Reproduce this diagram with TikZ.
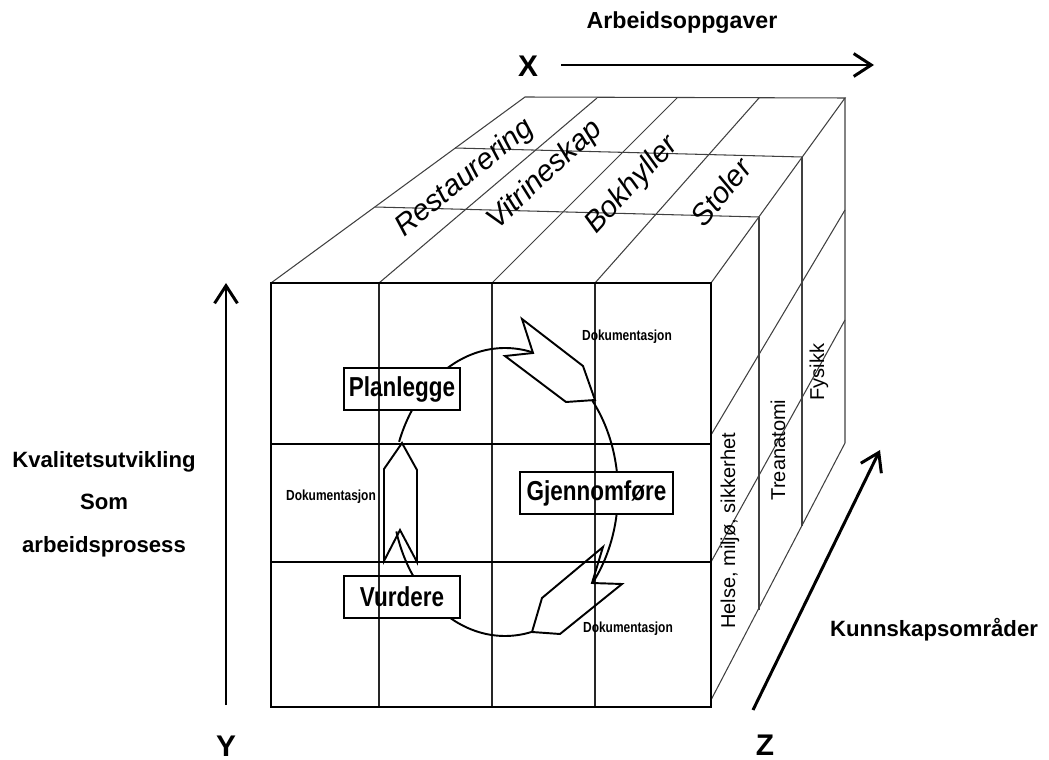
\documentclass[tikz,border=0pt]{standalone}
\usepackage{fontspec}
\setmainfont{Liberation Sans}
\newfontfamily\narrowsans{Liberation Sans}[FakeStretch=0.82]
\usetikzlibrary{arrows.meta}

\begin{document}
\begin{tikzpicture}[x=0.02cm, y=-0.02cm,
  faceline/.style={line width=0.6pt, draw=black!75},
  gridline/.style={line width=0.75pt, draw=black!85},
  thickline/.style={line width=1.7pt, draw=black},
  cycleline/.style={line width=1.1pt, draw=black, line join=miter},
  axis/.style={line width=1.7pt, -{Straight Barb[length=10pt,width=13pt]}},
  toplabel/.style={font=\fontsize{16.8}{18}\selectfont\itshape, inner sep=0pt},
  sidelabel/.style={font=\fontsize{11.4}{13}\selectfont, rotate=90, inner sep=0pt},
  procbox/.style={draw, line width=1.1pt, minimum height=0.84cm, inner sep=0pt,
    font=\narrowsans\bfseries\fontsize{15.6}{17}\selectfont},
  doclabel/.style={font=\narrowsans\bfseries\fontsize{8.3}{10}\selectfont, inner sep=0pt},
  axislabel/.style={font=\bfseries\fontsize{12.6}{24.2}\selectfont, inner sep=0pt, align=center},
  axisletter/.style={font=\bfseries\fontsize{17}{20}\selectfont, inner sep=0pt},
]
\useasboundingbox (0,0) rectangle (1049,760);

% ---- top face of the cube ----
\draw[faceline] (271,283) -- (525,97) -- (845,98) -- (711,283);
\draw[faceline] (379,283) -- (597,98);
\draw[faceline] (492,283) -- (677,98);
\draw[faceline] (595,283) -- (759,98);
\draw[faceline] (375,207) -- (759,217);
\draw[faceline] (455,148) -- (802,157);

% ---- right face of the cube ----
\draw[faceline] (845,98) -- (845,443) -- (711,700);
\draw[faceline] (759,217) -- (759,610);
\draw[faceline] (802,157) -- (802,526);
\draw[faceline] (711,435) -- (845,210);
\draw[faceline] (711,562) -- (845,320);

% ---- front face: grid ----
\draw[gridline] (379,283) -- (379,707);
\draw[gridline] (492,283) -- (492,707);
\draw[gridline] (595,283) -- (595,707);
\draw[thickline] (271,444) -- (711,444);
\draw[thickline] (271,562) -- (711,562);
\draw[thickline] (271,283) rectangle (711,707);

% ---- labels on the top face ----
\node[toplabel, rotate=39] (restaurering) at (465,178) {Restaurering};
\node[toplabel, rotate=43] (vitrineskap) at (545,175) {Vitrineskap};
\node[toplabel, rotate=47] (bokhyller) at (632,185) {Bokhyller};
\node[toplabel, rotate=51] (stoler) at (721,192) {Stoler};

% ---- labels on the right face ----
\node[sidelabel] (hms) at (730,531) {Helse, miljø, sikkerhet};
\node[sidelabel] (treanatomi) at (778,450) {Treanatomi};
\node[sidelabel] (fysikk) at (819,372) {Fysikk};

% ---- work cycle: arcs of an ellipse between the boxes and block arrows ----
\draw[cycleline] plot[domain=75.6:120.6, samples=30] ({505+113*cos(\x)}, {492-144*sin(\x)});
\draw[cycleline] plot[domain=145.3:159.6, samples=10] ({505+113*cos(\x)}, {492-144*sin(\x)});
\draw[cycleline] plot[domain=195.9:215.7, samples=15] ({505+113*cos(\x)}, {492-144*sin(\x)});
\draw[cycleline] plot[domain=241:283.8, samples=30] ({505+113*cos(\x)}, {492-144*sin(\x)});
\draw[cycleline] plot[domain=-39.4:-8.8, samples=20] ({505+113*cos(\x)}, {492-144*sin(\x)});
\draw[cycleline] plot[domain=8:39.3, samples=20] ({505+113*cos(\x)}, {492-144*sin(\x)});

% block arrows
\draw[cycleline] (522,319) -- (533,353) -- (505,356) -- (566,402) -- (595,400) -- (583,366) -- cycle;
\draw[cycleline] (384,561) -- (384,469) -- (402,443) -- (417,470) -- (417,562) -- (400,530) -- cycle;
\draw[cycleline] (603,547) -- (592,583) -- (622,584) -- (560,634) -- (532,632) -- (542,598) -- cycle;

% process boxes
\node[procbox, minimum width=2.32cm] (planlegge) at (402,389) {Planlegge};
\node[procbox, minimum width=3.06cm] (gjennomfore) at (596.5,493) {Gjennomføre};
\node[procbox, minimum width=2.32cm] (vurdere) at (402,597) {Vurdere};

\node[doclabel] (dok1) at (627,337) {Dokumentasjon};
\node[doclabel] (dok2) at (331,497) {Dokumentasjon};
\node[doclabel] (dok3) at (628,629) {Dokumentasjon};

% ---- axes ----
\coordinate (xstart) at (561,65);
\coordinate (xend) at (874,65);
\coordinate (ystart) at (226,705);
\coordinate (yend) at (226,283);
\coordinate (zstart) at (753,710);
\coordinate (zend) at (880,450);
\draw[axis] (xstart) -- (xend);
\draw[axis] (ystart) -- (yend);
\draw[axis] (zstart) -- (zend);

\node[axisletter] (xlabel) at (528,66) {X};
\node[axisletter] (ylabel) at (226,746) {Y};
\node[axisletter] (zlabel) at (765,745) {Z};

\node[axislabel, font=\bfseries\fontsize{13.2}{15}\selectfont] (arbeid) at (682,23) {Arbeidsoppgaver};
\node[axislabel] (kvalitet) at (104,504) {Kvalitetsutvikling\\Som\\arbeidsprosess};
\node[axislabel] (kunnskap) at (934,630) {Kunnskapsområder};

\end{tikzpicture}
\end{document}
